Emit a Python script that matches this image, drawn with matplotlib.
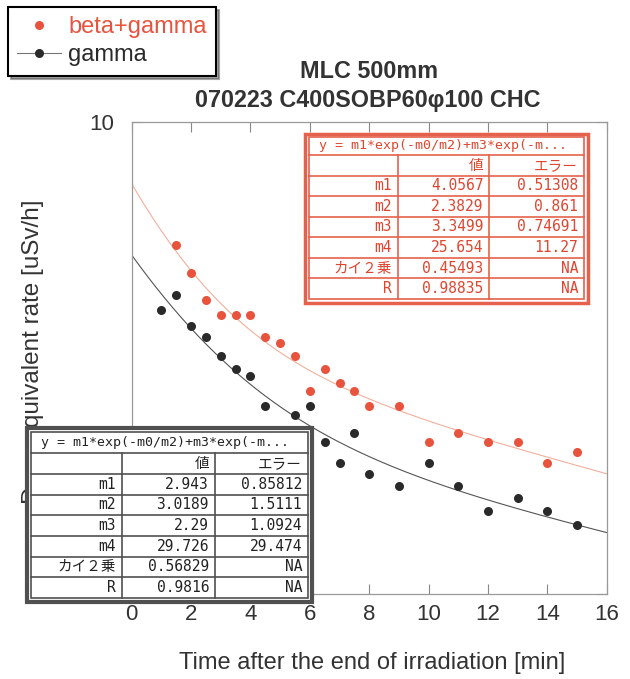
import numpy as np
import matplotlib
matplotlib.use("Agg")
from matplotlib import pyplot as plt
from matplotlib.patches import Rectangle
from matplotlib.lines import Line2D

plt.rcParams['font.family'] = ['Liberation Sans', 'DejaVu Sans']

# measured dose rates [uSv/h]
t_bg = [1.5, 2, 2.5, 3, 3.5, 4, 4.5, 5, 5.5, 6, 6.5, 7, 7.5, 8, 9, 10, 11, 12, 13, 14, 15]
rate_bg = [5.5, 4.8, 4.2, 3.9, 3.9, 3.9, 3.5, 3.4, 3.2, 2.7, 3.0, 2.8, 2.7, 2.5, 2.5,
           2.1, 2.2, 2.1, 2.1, 1.9, 2.0]
t_g = [1, 1.5, 2, 2.5, 3, 3.5, 4, 4.5, 5.5, 6, 6.5, 7, 7.5, 8, 9, 10, 11, 12, 13, 14, 15]
rate_g = [4.0, 4.3, 3.7, 3.5, 3.2, 3.0, 2.9, 2.5, 2.4, 2.5, 2.1, 1.9, 2.2, 1.8, 1.7,
          1.9, 1.7, 1.5, 1.6, 1.5, 1.4]

# double exponential fit results: m1, m2, m3, m4, chi2, R
fit_names = ['m1', 'm2', 'm3', 'm4', 'カイ２乗', 'R']
fit_bg_val = ['4.0567', '2.3829', '3.3499', '25.654', '0.45493', '0.98835']
fit_bg_err = ['0.51308', '0.861', '0.74691', '11.27', 'NA', 'NA']
fit_g_val = ['2.943', '3.0189', '2.29', '29.726', '0.56829', '0.9816']
fit_g_err = ['0.85812', '1.5111', '1.0924', '29.474', 'NA', 'NA']
equation = 'y = m1*exp(-m0/m2)+m3*exp(-m...'

RED = '#e8533d'
DARK = '#2a2a2a'
W, H = 630, 679

fig = plt.figure(figsize=(W / 100, H / 100), dpi=100)
ax = fig.add_axes([131.7 / W, 1 - 594.3 / H, 475 / W, 472 / H])


def fx(x):
    return x / W


def fy(y):
    return 1 - y / H


def dexp(x, p):
    m1, m2, m3, m4 = [float(v) for v in p[:4]]
    return m1 * np.exp(-x / m2) + m3 * np.exp(-x / m4)


tt = np.linspace(0, 16, 400)
ax.plot(tt, dexp(tt, fit_bg_val), color='#f2b09c', lw=0.8, zorder=2)
ax.plot(tt, dexp(tt, fit_g_val), color='#555555', lw=0.8, zorder=2)
ax.plot(t_bg, rate_bg, 'o', color=RED, ms=6.5, mec='none', zorder=3)
ax.plot(t_g, rate_g, 'o', color=DARK, ms=6.5, mec='none', zorder=3)

ax.set_yscale('log')
ax.set_xlim(0, 16)
ax.set_ylim(1, 10)
ax.set_xticks(np.arange(0, 17, 2))
# the lower tick label sits behind the fit table, only "10" shows
ax.set_yticks([1, 10])
ax.set_yticklabels(['', '10'])
ax.yaxis.set_minor_locator(matplotlib.ticker.NullLocator())
ax.tick_params(axis='x', direction='in', top=True, length=7, width=0.8, color='#888888',
               labelsize=16, labelcolor='#333333', pad=7)
ax.tick_params(axis='y', direction='in', right=True, length=7, width=0.8, color='#888888',
               labelsize=16, labelcolor='#333333', pad=13)
for s in ax.spines.values():
    s.set_color('#999999')
    s.set_linewidth(0.9)

fig.text(fx(369), fy(72), 'MLC 500mm', ha='center', va='center', fontsize=16.8,
         fontweight='bold', color='#333333')
fig.text(fx(368), fy(101), '070223 C400SOBP60φ100 CHC', ha='center', va='center',
         fontsize=16.8, fontweight='bold', color='#333333')
fig.text(fx(372), fy(663), 'Time after the end of irradiation [min]', ha='center',
         va='center', fontsize=17, color='#333333')
fig.text(fx(33), fy(352), 'Dose equivalent rate [uSv/h]', ha='center', va='center',
         rotation=90, fontsize=17.5, color='#333333')

# legend with drop shadow
h_bg = Line2D([], [], ls='none', marker='o', color=RED, ms=6.5, mec='none')
h_g = Line2D([], [], color='#777777', lw=0.8, marker='o', mfc=DARK, mec='none', ms=6.5)
leg = fig.legend([h_bg, h_g], ['beta+gamma', 'gamma'], loc='upper left',
                 bbox_to_anchor=(fx(8), fy(7)), fontsize=17, frameon=True,
                 fancybox=False, shadow=True, edgecolor='black', labelcolor=[RED, DARK],
                 handlelength=1.85, handletextpad=0.3, borderpad=0.4, labelspacing=0.25,
                 borderaxespad=0)
leg.get_frame().set_linewidth(1.5)

mono = ['DejaVu Sans Mono', 'Noto Sans CJK JP']


def fit_table(outer, x_edges, y_edges, vals, errs, edge, ink, lw_out):
    ox0, oy0, ox1, oy1 = outer
    fig.add_artist(Rectangle((fx(ox0), fy(oy1)), (ox1 - ox0) / W, (oy1 - oy0) / H,
                             transform=fig.transFigure, facecolor='white',
                             edgecolor=edge, lw=lw_out, zorder=5))
    x0, x1 = x_edges[0], x_edges[-1]
    y0, y1 = y_edges[0], y_edges[-1]
    fig.add_artist(Rectangle((fx(x0), fy(y1)), (x1 - x0) / W, (y1 - y0) / H,
                             transform=fig.transFigure, facecolor='none',
                             edgecolor=edge, lw=1.2, zorder=6))
    for y in y_edges[1:-1]:
        fig.add_artist(Line2D([fx(x0), fx(x1)], [fy(y), fy(y)], transform=fig.transFigure,
                              color=edge, lw=1.2, zorder=6))
    for x in x_edges[1:-1]:
        fig.add_artist(Line2D([fx(x), fx(x)], [fy(y_edges[1]), fy(y1)],
                              transform=fig.transFigure, color=edge, lw=1.2, zorder=6))
    fig.text(fx(x0 + 10), fy((y_edges[0] + y_edges[1]) / 2), equation, ha='left',
             va='center', fontsize=9.5, family=mono, color=ink, zorder=7)
    rows = [('', '値', 'エラー')] + list(zip(fit_names, vals, errs))
    for i, row in enumerate(rows):
        yc = fy((y_edges[i + 1] + y_edges[i + 2]) / 2)
        for j, s in enumerate(row):
            fig.text(fx(x_edges[j + 1] - 6), yc, s, ha='right', va='center',
                     fontsize=10.5, family=mono, color=ink, zorder=7)


row_b = np.linspace(155, 299, 8)
fit_table((305, 134, 588, 303), [309, 397.7, 489.3, 584], [137] + list(row_b),
          fit_bg_val, fit_bg_err, '#e5614b', '#e0452f', 2.5)
row_g = np.linspace(453.3, 598, 8)
fit_table((27, 428, 312, 602), [31, 121.7, 215, 308], [432] + list(row_g),
          fit_g_val, fit_g_err, '#505050', '#222222', 3)

fig.savefig('out.png', dpi=100)
